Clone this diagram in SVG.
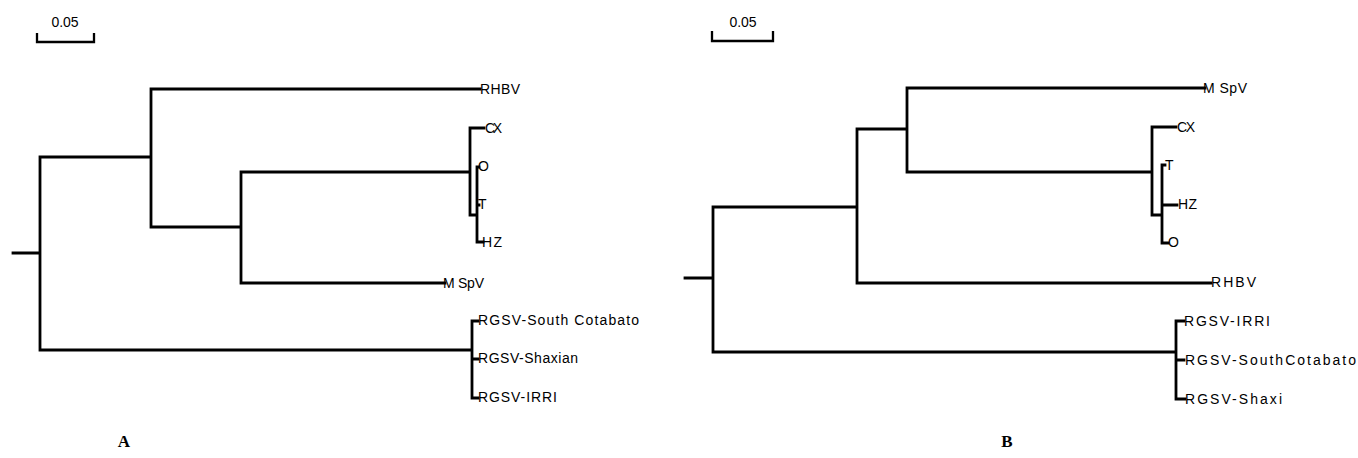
<svg xmlns="http://www.w3.org/2000/svg" width="1358" height="458" viewBox="0 0 1358 458">
<style>
.br{fill:none;stroke:#000;stroke-width:2.8;stroke-linecap:square;stroke-linejoin:miter}
.sb{fill:none;stroke:#000;stroke-width:2.3}
.lb{font-family:"Liberation Sans",Arial,sans-serif;font-size:14px;fill:#000}
.pl{font-family:"Liberation Serif","Times New Roman",serif;font-size:17px;font-weight:bold;fill:#000;text-anchor:middle}
</style>
<rect width="1358" height="458" fill="#fff"/>
<g id="scalebar-a">
<polyline class="sb" points="37,33 37,42 94,42 94,33"/>
<text class="lb" x="65" y="27" text-anchor="middle" font-size="15">0.05</text>
</g>
<g id="scalebar-b">
<polyline class="sb" points="712,31 712,41 773,41 773,31"/>
<text class="lb" x="743" y="27" text-anchor="middle" font-size="15">0.05</text>
</g>
<g id="connectors">
<g id="edges-a">
<path class="br" d="M13 253H40M40 157V350M40 157H151M151 89V227M151 89H480M151 227H241M241 172V283M241 172H470M241 283H445M470 128V215M470 128H484M470 215H477M477 167V242M477 167H479M477 205H479M477 242H483M40 350H472M472 321V398M472 321H478M472 359H478M472 398H478"/>
</g>
<g id="edges-b">
<path class="br" d="M685 278H713M713 207V352M713 207H857M857 129V283M857 129H907M907 88V172M907 88H1205M907 172H1152M1152 127V215M1152 127H1176M1152 215H1162M1162 165V243M1162 165H1165M1162 205H1177M1162 243H1168M857 283H1211M713 352H1176M1176 321V399M1176 321H1184M1176 360H1184M1176 399H1185"/>
</g>
</g>
<g id="a-rhbv"><text class="lb" x="480" y="94" textLength="40" lengthAdjust="spacing">RHBV</text></g>
<g id="a-cx"><text class="lb" x="485" y="133" textLength="17" lengthAdjust="spacing">CX</text></g>
<g id="a-o"><text class="lb" x="478" y="171">O</text></g>
<g id="a-t"><text class="lb" x="478" y="209">T</text></g>
<g id="a-hz"><text class="lb" x="482" y="247" textLength="20" lengthAdjust="spacing">HZ</text></g>
<g id="a-mspv"><text class="lb" x="443" y="288" textLength="41" lengthAdjust="spacing">M SpV</text></g>
<g id="a-rgsv-sc"><text class="lb" x="478" y="325" textLength="161" lengthAdjust="spacing">RGSV-South Cotabato</text></g>
<g id="a-rgsv-sh"><text class="lb" x="478" y="363" textLength="100" lengthAdjust="spacing">RGSV-Shaxian</text></g>
<g id="a-rgsv-irri"><text class="lb" x="478" y="402" textLength="79" lengthAdjust="spacing">RGSV-IRRI</text></g>
<g id="b-mspv"><text class="lb" x="1203" y="93" textLength="44" lengthAdjust="spacing">M SpV</text></g>
<g id="b-cx"><text class="lb" x="1177" y="132" textLength="18" lengthAdjust="spacing">CX</text></g>
<g id="b-t"><text class="lb" x="1165" y="170">T</text></g>
<g id="b-hz"><text class="lb" x="1178" y="209" textLength="19" lengthAdjust="spacing">HZ</text></g>
<g id="b-o"><text class="lb" x="1168" y="247">O</text></g>
<g id="b-rhbv"><text class="lb" x="1211" y="287" textLength="45" lengthAdjust="spacing">RHBV</text></g>
<g id="b-rgsv-irri"><text class="lb" x="1184" y="326" textLength="86" lengthAdjust="spacing">RGSV-IRRI</text></g>
<g id="b-rgsv-sc"><text class="lb" x="1185" y="365" textLength="171" lengthAdjust="spacing">RGSV-SouthCotabato</text></g>
<g id="b-rgsv-sh"><text class="lb" x="1185" y="404" textLength="97" lengthAdjust="spacing">RGSV-Shaxi</text></g>
<g id="panel-a"><text class="pl" x="124" y="447">A</text></g>
<g id="panel-b"><text class="pl" x="1007" y="447">B</text></g>
</svg>
